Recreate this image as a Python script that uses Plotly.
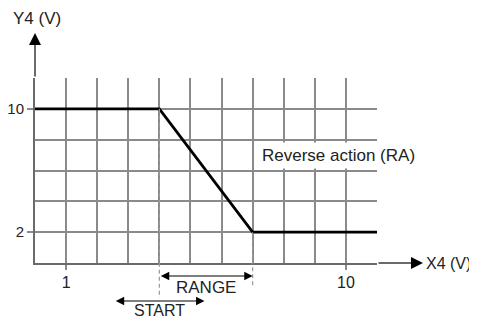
import plotly.graph_objects as go

# ---- data ----
X_POINTS = [0, 4, 7, 11]          # X4 (V)
Y_POINTS = [10, 10, 2, 2]         # Y4 (V)
X_TICKS = [1, 10]
X_TICK_LABELS = ["1", "10"]
Y_TICKS = [10, 2]
Y_TICK_LABELS = ["10", "2"]
X_MAX = 11
Y_MAX = 12
START = 4
RANGE_END = 7
START_HALF_SPAN = 1.45
LABEL_TEXT = "Reverse action (RA)"
LABEL_POS = (9.75, 7)

FONT = "Liberation Sans, Arial, Helvetica, sans-serif"
GRID = "#8a8a8a"
AXIS = "#6a6a6a"
TXT = "#222222"
FS = 17

PLOT_W = 342.0
PLOT_H = 185.0

fig = go.Figure()
fig.add_trace(go.Scatter(x=X_POINTS, y=Y_POINTS, mode="lines",
                         line=dict(color="black", width=2.8),
                         hoverinfo="skip", showlegend=False))

axis_common = dict(showline=True, linecolor=AXIS, linewidth=2,
                   showgrid=True, gridcolor=GRID, gridwidth=1.5,
                   zeroline=False, ticks="outside", tickcolor=GRID,
                   tickwidth=1.5, automargin=False,
                   fixedrange=True, layer="above traces")

fig.update_xaxes(range=[0, X_MAX], tickmode="array", tickvals=X_TICKS,
                 ticktext=X_TICK_LABELS, ticklen=5, ticklabelstandoff=-1,
                 tickfont=dict(family=FONT, size=16, color=TXT),
                 minor=dict(tick0=0, dtick=1, showgrid=True, gridcolor=GRID,
                            gridwidth=1.5, ticks=""),
                 **axis_common)
fig.update_yaxes(range=[0, Y_MAX], tickmode="array", tickvals=Y_TICKS,
                 ticktext=Y_TICK_LABELS, ticklen=6, ticklabelstandoff=0,
                 tickfont=dict(family=FONT, size=15, color=TXT),
                 minor=dict(tick0=0, dtick=2, showgrid=True, gridcolor=GRID,
                            gridwidth=1.5, ticks=""),
                 **axis_common)


def py(pixel_offset_below_axis):
    return -pixel_offset_below_axis / PLOT_H

# dashed verticals at START and RANGE_END
fig.add_shape(type="line", xref="x", yref="paper",
              x0=START, x1=START, y0=Y_POINTS[1] / Y_MAX, y1=py(35),
              line=dict(color="#999999", width=1.2, dash="4px,3px"))
fig.add_shape(type="line", xref="x", yref="paper",
              x0=RANGE_END, x1=RANGE_END, y0=Y_POINTS[2] / Y_MAX, y1=py(25),
              line=dict(color="#999999", width=1.2, dash="4px,3px"))

# axis arrows: grey shafts, black heads
Y_ARROW = 45
X_ARROW = 46
HEAD = 13
fig.add_annotation(xref="paper", yref="paper", x=0, y=1 + (Y_ARROW - 10) / PLOT_H,
                   ax=0, ay=Y_ARROW - 10, axref="pixel", ayref="pixel", text="",
                   showarrow=True, arrowhead=0, arrowwidth=2,
                   arrowcolor=AXIS, standoff=0)
fig.add_annotation(xref="paper", yref="paper", x=0, y=1 + Y_ARROW / PLOT_H,
                   ax=0, ay=HEAD, axref="pixel", ayref="pixel", text="",
                   showarrow=True, arrowhead=2, arrowsize=1.2, arrowwidth=2,
                   arrowcolor="black", standoff=0)
fig.add_annotation(xref="paper", yref="paper", x=1 + (X_ARROW - 10) / PLOT_W, y=0,
                   ax=-(X_ARROW - 10), ay=0, axref="pixel", ayref="pixel", text="",
                   showarrow=True, arrowhead=0, arrowwidth=2,
                   arrowcolor=AXIS, standoff=0)
fig.add_annotation(xref="paper", yref="paper", x=1 + X_ARROW / PLOT_W, y=0,
                   ax=-HEAD, ay=0, axref="pixel", ayref="pixel", text="",
                   showarrow=True, arrowhead=2, arrowsize=1.2, arrowwidth=2,
                   arrowcolor="black", standoff=0)

# axis titles
fig.add_annotation(xref="paper", yref="paper", x=0.006, y=1 + 60 / PLOT_H,
                   text="Y4 (V)", showarrow=False, xanchor="center", yanchor="middle",
                   font=dict(family=FONT, size=FS, color=TXT))
fig.add_annotation(xref="paper", yref="paper", x=1 + 47 / PLOT_W, y=0,
                   text="X4 (V)", showarrow=False, xanchor="left", yanchor="middle",
                   font=dict(family=FONT, size=16, color=TXT))

# RANGE double arrow
fig.add_annotation(xref="x", yref="paper", x=RANGE_END, y=py(13),
                   ax=START, ay=0, axref="x", ayref="pixel", text="",
                   showarrow=True, arrowhead=2, arrowside="end+start",
                   arrowsize=1.4, arrowwidth=1.2, arrowcolor="black", standoff=0)
fig.add_annotation(xref="x", yref="paper", x=(START + RANGE_END) / 2, y=py(24),
                   text="RANGE", showarrow=False, yanchor="middle",
                   font=dict(family=FONT, size=FS, color=TXT))

# START double arrow
fig.add_annotation(xref="x", yref="paper", x=START + START_HALF_SPAN, y=py(38),
                   ax=START - START_HALF_SPAN, ay=0, axref="x", ayref="pixel", text="",
                   showarrow=True, arrowhead=2, arrowside="end+start",
                   arrowsize=1.4, arrowwidth=1.2, arrowcolor="black", standoff=0)
fig.add_annotation(xref="x", yref="paper", x=START, y=py(47),
                   text="START", showarrow=False, yanchor="middle",
                   font=dict(family=FONT, size=16, color=TXT))

# curve label
fig.add_annotation(xref="x", yref="y", x=LABEL_POS[0], y=LABEL_POS[1],
                   text=LABEL_TEXT, showarrow=False, bgcolor="white", borderpad=3,
                   font=dict(family=FONT, size=FS, color=TXT))

# the page adds an 8px body margin, so the figure is sized/offset to fit the window
fig.update_layout(width=469, height=312,
                  margin=dict(l=27, r=100, t=70, b=57, autoexpand=False),
                  paper_bgcolor="white", plot_bgcolor="white",
                  showlegend=False)

fig.write_html("out.html")
